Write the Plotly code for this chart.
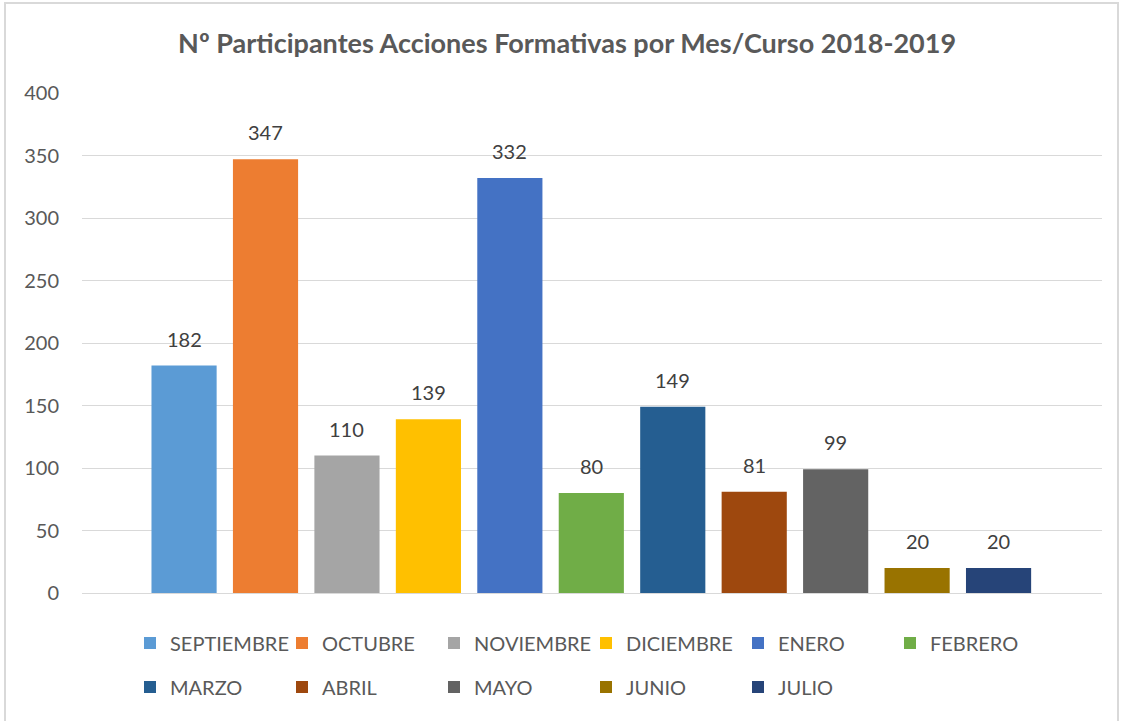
import plotly.graph_objects as go

months = ["SEPTIEMBRE", "OCTUBRE", "NOVIEMBRE", "DICIEMBRE", "ENERO", "FEBRERO",
          "MARZO", "ABRIL", "MAYO", "JUNIO", "JULIO"]
participants = [182, 347, 110, 139, 332, 80, 149, 81, 99, 20, 20]
colors = ["#5B9BD5", "#ED7D31", "#A5A5A5", "#FFC000", "#4472C4", "#70AD47",
          "#255E91", "#9E480E", "#636363", "#997300", "#264478"]
y_ticks = [0, 50, 100, 150, 200, 250, 300, 350, 400]

FONT = "Lato, 'Open Sans', sans-serif"
W, H = 1123, 721
L, R, T, B = 82, 21, 93, 128
pw, ph = W - L - R, H - T - B

def px_x(px):
    return (px - L) / pw

def px_y(py):
    return (H - B - py) / ph

fig = go.Figure()
for i, (m, v, c) in enumerate(zip(months, participants, colors)):
    fig.add_trace(go.Bar(
        x=[i], y=[v], name=m, marker=dict(color=c, line=dict(width=0)),
        width=0.8, legend="legend" if i < 6 else "legend2",
        hoverinfo="x+y",
    ))
    fig.add_annotation(x=i, y=v, text=str(v), showarrow=False,
                       yanchor="bottom", yshift=13,
                       font=dict(family=FONT, size=20, color="#404040"))

leg_common = dict(orientation="h", xanchor="left", yanchor="middle",
                  xref="container", yref="container",
                  entrywidth=107, entrywidthmode="pixels",
                  itemwidth=30, bgcolor="rgba(0,0,0,0)",
                  font=dict(family=FONT, size=20, color="#595959"),
                  traceorder="normal")

fig.update_layout(
    width=W, height=H,
    margin=dict(l=L, r=R, t=T, b=B, autoexpand=False),
    paper_bgcolor="white", plot_bgcolor="white",
    barmode="overlay",
    font=dict(family=FONT, size=20, color="#595959"),
    title=dict(text="<b>Nº Participantes Acciones Formativas por Mes/Curso 2018-2019</b>",
               x=0.505, xref="container", xanchor="center",
               y=1 - 44 / H, yref="container", yanchor="middle",
               font=dict(family=FONT, size=27, color="#595959")),
    xaxis=dict(range=[-1.253, 11.27], showticklabels=False, showgrid=False,
               zeroline=False, showline=False, fixedrange=True, automargin=False),
    yaxis=dict(range=[0, 400], tickvals=y_ticks, showgrid=True,
               gridcolor="#D9D9D9", gridwidth=1, zeroline=True,
               zerolinecolor="#D9D9D9", zerolinewidth=1, showline=False,
               ticks="outside", ticklen=18, tickcolor="rgba(0,0,0,0)",
               automargin=False,
               tickfont=dict(family=FONT, size=20, color="#595959")),
    legend=dict(x=130 / W, y=1 - 643 / H, **leg_common),
    legend2=dict(x=130 / W, y=1 - 687 / H, **leg_common),
    showlegend=True,
)

fig.add_shape(type="rect", xref="paper", yref="paper",
              x0=px_x(5), x1=px_x(1118), y0=px_y(740), y1=px_y(3),
              line=dict(color="#D9D9D9", width=2), fillcolor="rgba(0,0,0,0)",
              layer="below")

fig.write_html("out.html",
               config={"displayModeBar": False},
               post_script="document.body.style.margin='0';document.body.style.padding='0';")
